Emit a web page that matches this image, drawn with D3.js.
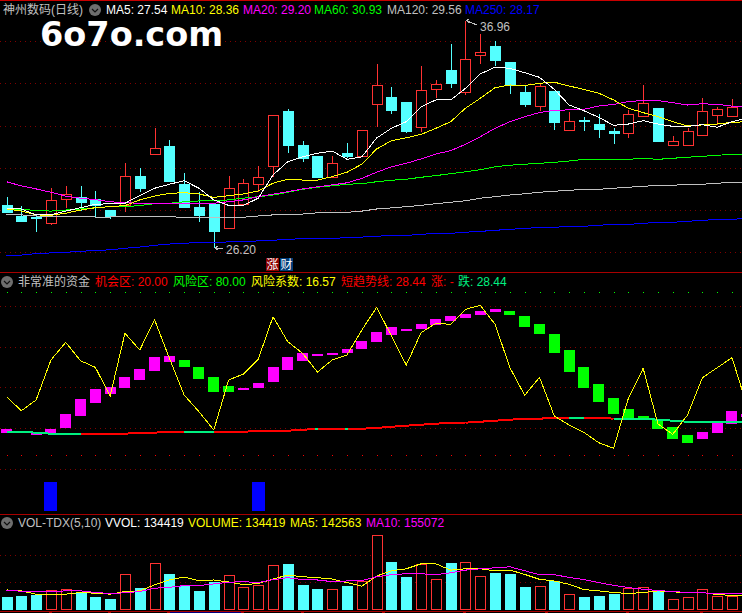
<!DOCTYPE html>
<html><head><meta charset="utf-8">
<script src="https://cdn.jsdelivr.net/npm/d3@7/dist/d3.min.js"></script>
<style>html,body{margin:0;padding:0;background:#000;overflow:hidden}svg{display:block}
text{font-family:"Liberation Sans","Noto Sans CJK SC",sans-serif;font-size:12px;letter-spacing:0}</style>
</head><body><svg id="c" width="742" height="613"></svg>
<script>
// ---------- price pane ----------
const candOpen=[28.24,27.73,27.65,27.40,28.49,28.62,28.51,28.00,28.24,29.61,30.62,31.03,29.23,28.14,28.27,27.12,28.29,29.20,30.08,32.69,31.08,30.56,29.53,30.70,30.56,32.99,33.34,33.11,31.92,33.71,34.63,33.55,35.32,35.76,35.01,33.59,32.94,33.63,31.76,32.25,32.07,31.76,31.63,32.45,32.83,31.05,31.05,31.55,32.48,32.47,32.59];
const candClose=[27.91,27.48,27.60,28.48,28.75,28.38,28.24,27.72,29.60,29.04,30.92,29.37,28.14,27.77,27.01,29.03,29.27,29.55,32.48,31.08,30.48,29.58,30.21,30.56,31.77,33.90,32.74,31.74,33.67,33.97,34.03,35.13,35.47,35.10,33.92,33.02,33.89,32.17,32.20,32.18,31.84,31.66,32.53,33.05,31.27,31.25,31.73,32.67,32.77,32.88,31.69];
const candHigh=[28.63,28.19,27.77,29.04,29.14,29.14,28.90,28.00,30.23,29.99,31.88,31.32,29.75,28.87,28.27,29.60,29.47,30.07,32.48,32.80,31.27,30.56,30.56,31.16,31.77,34.91,33.81,33.11,34.82,34.15,35.86,36.96,36.33,36.00,35.01,33.87,34.00,33.63,32.64,32.42,32.55,31.88,32.74,33.90,32.83,31.50,31.88,33.29,32.86,33.26,32.59];
const candLow=[27.91,27.48,26.97,27.29,28.10,27.95,27.64,27.58,27.92,28.87,30.62,29.34,28.10,27.45,26.20,27.12,28.29,28.87,29.58,30.69,30.29,29.52,29.53,30.48,30.56,31.94,32.55,31.66,31.69,33.32,33.79,33.46,34.91,34.82,33.49,32.89,32.70,31.79,31.76,31.76,31.42,31.14,31.42,32.40,31.23,31.05,31.05,31.55,32.04,32.47,31.69];
const ma5=[28.05,28.05,27.77,27.77,27.95,28.11,28.27,28.30,28.32,28.68,29.03,29.22,29.39,29.03,28.48,28.22,28.22,28.56,29.66,30.29,30.52,30.69,30.79,30.40,30.52,31.41,31.87,32.18,32.89,33.21,33.21,33.76,34.44,34.76,34.71,34.50,34.28,33.71,32.97,32.70,32.39,32.01,32.07,32.23,32.07,31.96,31.96,32.04,31.92,32.18,32.36];
const ma10=[28.05,27.95,27.77,27.75,27.85,28.00,28.11,28.16,28.21,28.48,28.66,28.79,28.82,28.76,28.60,28.68,28.76,28.90,29.27,29.46,29.42,29.42,29.58,29.79,30.17,30.89,31.28,31.42,31.58,31.87,32.18,32.82,33.29,33.79,33.92,33.89,34.00,34.05,33.87,33.71,33.53,33.21,32.82,32.61,32.42,32.18,31.98,32.03,32.07,32.15,32.18];
const ma20=[29.34,29.14,29.00,28.84,28.66,28.56,28.49,28.39,28.35,28.32,28.30,28.30,28.29,28.30,28.32,28.39,28.48,28.63,28.75,28.87,29.00,29.10,29.19,29.29,29.50,29.79,30.05,30.21,30.42,30.65,30.81,31.11,31.47,31.87,32.18,32.42,32.61,32.72,32.74,32.77,32.92,33.00,33.13,33.19,33.18,33.08,32.97,33.03,33.00,32.92,32.86];
const ma60=[28.05,28.02,27.99,27.95,28.00,28.05,28.11,28.16,28.16,28.21,28.30,28.32,28.39,28.43,28.44,28.48,28.56,28.63,28.71,28.84,28.98,29.08,29.15,29.22,29.25,29.34,29.41,29.46,29.55,29.63,29.72,29.81,29.91,30.05,30.12,30.17,30.21,30.26,30.32,30.40,30.40,30.40,30.40,30.45,30.40,30.45,30.50,30.54,30.59,30.64,30.64];
const ma120=[27.80,27.77,27.72,27.68,27.68,27.68,27.67,27.67,27.68,27.68,27.68,27.68,27.66,27.66,27.66,27.66,27.66,27.72,27.77,27.80,27.81,27.87,27.89,27.89,27.95,28.05,28.10,28.16,28.22,28.30,28.37,28.44,28.56,28.63,28.71,28.77,28.84,28.89,28.93,28.98,28.98,29.03,29.08,29.12,29.17,29.17,29.22,29.22,29.27,29.31,29.31];
const ma250=[25.84,25.87,25.94,25.97,26.00,26.05,26.08,26.12,26.19,26.25,26.33,26.39,26.43,26.46,26.47,26.49,26.50,26.54,26.57,26.61,26.65,26.66,26.66,26.69,26.72,26.76,26.80,26.80,26.85,26.90,26.90,26.95,26.99,27.04,27.09,27.13,27.18,27.18,27.23,27.23,27.28,27.32,27.32,27.37,27.42,27.42,27.47,27.51,27.56,27.56,27.61];
const priceTicks=[26,28,30,32,34,36];
const maxPrice=36.96, minPrice=26.20, maxIndex=31, minIndex=14;
const maSeries=[[ma250,"#0000ff"],[ma120,"#c0c0c0"],[ma60,"#00ff00"],[ma20,"#ff00ff"],[ma10,"#ffff00"],[ma5,"#ffffff"]];

// ---------- indicator pane ----------
const riskLine=[41.56,36.41,40.35,55.07,61.58,54.81,52.38,41.82,64.90,58.75,69.90,55.70,42.19,36.04,29.31,47.71,49.92,55.33,71.00,61.80,57.54,50.65,55.07,56.91,66.11,74.46,63.90,53.23,65.12,68.58,68.21,73.73,75.20,68.21,52.24,42.08,48.70,34.46,31.15,28.46,24.64,22.58,40.98,52.02,31.52,27.73,34.83,48.56,52.24,55.92,38.51];
const flowOpen=[28.20,null,27.21,28.09,30.05,34.46,39.25,42.56,44.77,47.71,51.02,54.33,55.07,52.49,48.81,45.50,44.14,44.77,46.97,51.39,54.70,56.54,56.91,57.65,59.12,61.69,64.27,65.74,66.48,67.95,69.42,70.53,71.63,72.73,73.10,71.26,68.32,64.64,58.75,52.49,46.24,41.09,37.04,34.46,33.00,30.41,27.47,25.99,28.20,31.52,34.09];
const flowClose=[29.79,null,28.09,29.68,35.20,40.60,44.40,45.02,48.81,51.76,56.17,56.54,52.49,48.19,43.29,43.29,44.77,46.61,52.49,56.17,57.65,57.28,57.65,59.12,62.06,65.37,67.21,66.48,68.32,70.16,71.26,72.00,73.10,73.84,71.63,67.21,64.64,57.65,50.65,44.77,39.61,35.20,33.73,33.00,29.68,25.99,24.53,28.57,31.89,36.30,35.20];
const trendLine=[28.68,28.68,28.32,27.95,27.95,27.95,27.95,27.95,27.95,28.32,28.32,28.68,28.68,28.68,28.68,28.68,28.68,28.94,29.05,29.05,29.42,29.68,29.79,29.79,29.79,30.05,30.52,30.89,31.26,31.63,32.00,32.00,32.36,32.73,33.10,33.47,33.47,33.84,33.84,33.84,33.84,33.47,33.47,33.47,33.10,32.73,32.36,32.36,32.36,32.36,32.36];
const trendRising=[0,0,0,0,0,1,1,1,1,1,1,1,0,0,1,1,1,1,1,1,1,1,1,1,1,1,1,1,1,1,1,1,1,1,1,1,1,1,0,1,1,0,0,0,0,0,0,0,0,0];
const trendFlecks=[21,23];
const signalIndex=[3,17];
const signalTop=10.28, signalBase=-0.5;
const riskTicks=[15,30,45,60,75];
const chanceLevel=20, riskLevel=80;

// ---------- volume pane ----------
const volume=[116000,125000,134419,185000,193000,155000,116000,98000,327000,196000,426000,321000,214000,170000,250000,318000,211000,229000,408000,411000,223000,187000,193000,214000,262000,676000,429000,295000,417000,283000,420000,434000,310000,330000,321000,205000,220000,262000,140000,116000,125000,143000,199000,211000,170000,95000,113000,193000,122000,122000,140000];
const volMa5=[181500,172600,142563,136900,142800,157700,151800,142800,166700,172600,226200,270800,297600,264900,270800,253000,229200,238100,279700,315500,300600,291600,279700,247000,214300,306500,354100,372000,416600,416600,360100,372000,372000,354100,360100,321400,276800,261900,232100,184500,172600,157700,148800,157700,172600,163700,157700,157700,139900,130900,136900];
const volMa10=[178600,169600,163700,166700,172600,172600,157700,148800,154800,166700,196400,205300,220200,220200,235100,250000,255900,247000,273800,291600,273800,270800,255900,261900,264900,300600,318400,327400,327400,318400,336300,360100,372000,380900,389900,354100,318400,318400,294600,273800,247000,223200,202400,187500,175600,166700,157700,154800,148800,148800,142800];
const volTicks=[250000,500000];
const dateTicks=[3,7,11,16,20,25.5,31,36.5,42,47];
const dateBand=[11,16];

// ---------- header labels ----------
const priceLegend=[["神州数码(日线)",3,"#c0c0c0"],["MA5: 27.54",106,"#ffffff"],["MA10: 28.36",171,"#ffff00"],["MA20: 29.20",243,"#ff00ff"],["MA60: 30.93",314,"#00ff00"],["MA120: 29.56",387,"#c0c0c0"],["MA250: 28.17",465,"#0000ff"]];
const flowLegend=[["非常准的资金",18,"#c0c0c0"],["机会区: 20.00",95,"#ff0000"],["风险区: 80.00",173,"#00ff00"],["风险系数: 16.57",251,"#ffff00"],["短趋势线: 28.44",341,"#ff0000"],["涨: -",431,"#ff0000"],["跌: 28.44",458,"#00f080"]];
const volLegend=[["VOL-TDX(5,10)",18,"#c0c0c0"],["VVOL: 134419",105,"#ffffff"],["VOLUME: 134419",188,"#ffff00"],["MA5: 142563",290,"#ffff00"],["MA10: 155072",366,"#ff00ff"]];

const RED="#ff3232",CYAN="#54ffff",MAG="#ff00ff",GRN="#00ff00",SPRING="#00f080",RULE="#a80000",DOT="#800000";
const svg=d3.select("#c");
svg.append("rect").attr("width",742).attr("height",613).attr("fill","#000");
const n=candOpen.length, idx=d3.range(n);
const x=d3.scaleLinear().domain([0,50]).range([6.5,746.8]);
const yP=d3.scaleLinear().domain([26,36]).range([252.3,41]);
const yF=d3.scaleLinear().domain([20,80]).range([455.3,292.3]);
const yV=d3.scaleLinear().domain([0,250000]).range([610,582.3]);
const snap=v=>Math.round(v)+.5;
const plot=svg.append("g").attr("shape-rendering","crispEdges");

// separators
[[0,"#c80000"],[272,RULE],[514,RULE],[611,RULE]].forEach(([py,c])=>plot.append("line").attr("x1",0).attr("x2",742).attr("y1",py+.5).attr("y2",py+.5).attr("stroke",c));

// date axis ticks under the volume pane
plot.append("line").attr("x1",x(dateBand[0])).attr("x2",x(dateBand[1])).attr("y1",612.5).attr("y2",612.5).attr("stroke","#000080");
plot.append("g").selectAll("line").data(dateTicks).join("line")
  .attr("x1",i=>Math.round(x(i))-2).attr("x2",i=>Math.round(x(i))+1).attr("y1",612.5).attr("y2",612.5).attr("stroke",RULE);

function grid(ticks,scale){
  plot.append("g").selectAll("line").data(ticks).join("line")
    .attr("x1",0).attr("x2",742).attr("y1",d=>snap(scale(d))).attr("y2",d=>snap(scale(d)))
    .attr("stroke",DOT).attr("stroke-dasharray","1 4");
}
grid(priceTicks,yP); grid(riskTicks,yF); grid(volTicks,yV);

// candles
const candle=plot.append("g").selectAll("g").data(idx).join("g");
candle.append("line").attr("x1",i=>snap(x(i))).attr("x2",i=>snap(x(i)))
  .attr("y1",i=>yP(candHigh[i])).attr("y2",i=>yP(candLow[i]))
  .attr("stroke",i=>candClose[i]>candOpen[i]?RED:CYAN);
candle.append("rect")
  .attr("x",i=>snap(x(i))-5).attr("width",10)
  .attr("y",i=>snap(yP(Math.max(candOpen[i],candClose[i]))))
  .attr("height",i=>Math.max(1,Math.round(Math.abs(yP(candOpen[i])-yP(candClose[i])))))
  .attr("fill",i=>candClose[i]>candOpen[i]?"#000":CYAN)
  .attr("stroke",i=>candClose[i]>candOpen[i]?RED:CYAN);

// moving averages
const lineOf=(s,sc)=>d3.line().x(i=>x(i)).y(i=>sc(s[i]))(idx);
maSeries.forEach(([s,c])=>plot.append("path").attr("d",lineOf(s,yP)).attr("fill","none").attr("stroke",c));

// indicator: level dots
[[riskLevel,GRN],[chanceLevel,"#ff0000"]].forEach(([lv,c])=>plot.append("g").selectAll("rect").data(idx).join("rect")
  .attr("x",i=>Math.round(x(i))).attr("y",Math.round(yF(lv))).attr("width",1).attr("height",1).attr("fill",c));

// indicator: blue signals
plot.append("g").selectAll("rect").data(signalIndex).join("rect")
  .attr("x",i=>Math.round(x(i)-6.5)).attr("width",13)
  .attr("y",yF(signalTop)).attr("height",yF(signalBase)-yF(signalTop)).attr("fill","#0000ff");

// indicator: flow bars
plot.append("g").selectAll("rect").data(idx.filter(i=>flowOpen[i]!==null)).join("rect")
  .attr("x",i=>Math.round(x(i)-5.5)).attr("width",11)
  .attr("y",i=>Math.round(yF(Math.max(flowOpen[i],flowClose[i]))))
  .attr("height",i=>Math.max(2,Math.round(Math.abs(yF(flowOpen[i])-yF(flowClose[i])))))
  .attr("fill",i=>flowClose[i]>flowOpen[i]?MAG:GRN);

// indicator: trend line segments
plot.append("g").selectAll("line").data(d3.range(n-1)).join("line")
  .attr("x1",i=>x(i)).attr("x2",i=>x(i+1)).attr("y1",i=>yF(trendLine[i])).attr("y2",i=>yF(trendLine[i+1]))
  .attr("stroke",i=>trendRising[i]?"#ff0000":SPRING).attr("stroke-width",2);
plot.append("g").selectAll("line").data(trendFlecks).join("line")
  .attr("x1",i=>x(i)-2).attr("x2",i=>x(i)+1).attr("y1",i=>yF(trendLine[i])).attr("y2",i=>yF(trendLine[i]))
  .attr("stroke",SPRING).attr("stroke-width",2);

// indicator: risk line
plot.append("path").attr("d",lineOf(riskLine,yF)).attr("fill","none").attr("stroke","#ffff00");

// volume bars
plot.append("g").selectAll("rect").data(idx).join("rect")
  .attr("x",i=>snap(x(i))-5).attr("width",10)
  .attr("y",i=>snap(yV(volume[i])))
  .attr("height",i=>Math.round(yV(0)-yV(volume[i]))-1)
  .attr("fill",i=>candClose[i]>candOpen[i]?"#000":CYAN)
  .attr("stroke",i=>candClose[i]>candOpen[i]?RED:CYAN);
plot.append("path").attr("d",lineOf(volMa5,yV)).attr("fill","none").attr("stroke","#ffff00");
plot.append("path").attr("d",lineOf(volMa10,yV)).attr("fill","none").attr("stroke",MAG);

// extreme markers
const G="#c0c0c0";
function marker(i,p,tx,ty,ly,label){
  const mx=x(i),my=yP(p);
  svg.append("path").attr("d",`M${mx+1},${my}L${tx-3},${ly}M${mx+4},${my-2}L${mx+1},${my}L${mx+4},${my+2}`).attr("fill","none").attr("stroke",G).attr("shape-rendering","crispEdges");
  svg.append("text").attr("x",tx).attr("y",ty).attr("fill",G).text(label);
}
marker(maxIndex,maxPrice,480,31,25,maxPrice.toFixed(2));
marker(minIndex,minPrice,226,254,yP(minPrice),minPrice.toFixed(2));

// tags
[["涨",266,"#8b0000"],["财",280,"#003c78"]].forEach(([t,tx,c])=>{
  svg.append("rect").attr("x",tx).attr("y",258).attr("width",13).attr("height",13).attr("fill",c);
  svg.append("text").attr("x",tx+.5).attr("y",269).attr("fill","#fff").text(t);
});

// legends
function legend(items,ty){
  svg.append("g").selectAll("text").data(items).join("text")
    .attr("x",d=>d[1]).attr("y",ty).attr("fill",d=>d[2]).text(d=>d[0]);
}
legend(priceLegend,14); legend(flowLegend,286); legend(volLegend,527);

// collapse buttons
[[95,10],[7,282],[7,523]].forEach(([cx,cy])=>{
  svg.append("circle").attr("cx",cx).attr("cy",cy).attr("r",6).attr("fill","#6e6e6e");
  svg.append("path").attr("d",`M${cx-3},${cy-1}L${cx},${cy+2}L${cx+3},${cy-1}`).attr("fill","none").attr("stroke","#111").attr("stroke-width",1.2);
});

// watermark
svg.append("text").attr("x",40).attr("y",46).attr("fill","#fff")
  .style("font-family","'DejaVu Sans'").style("font-weight","bold").style("font-size","33.5px").text("6o7o.com");
</script></body></html>
